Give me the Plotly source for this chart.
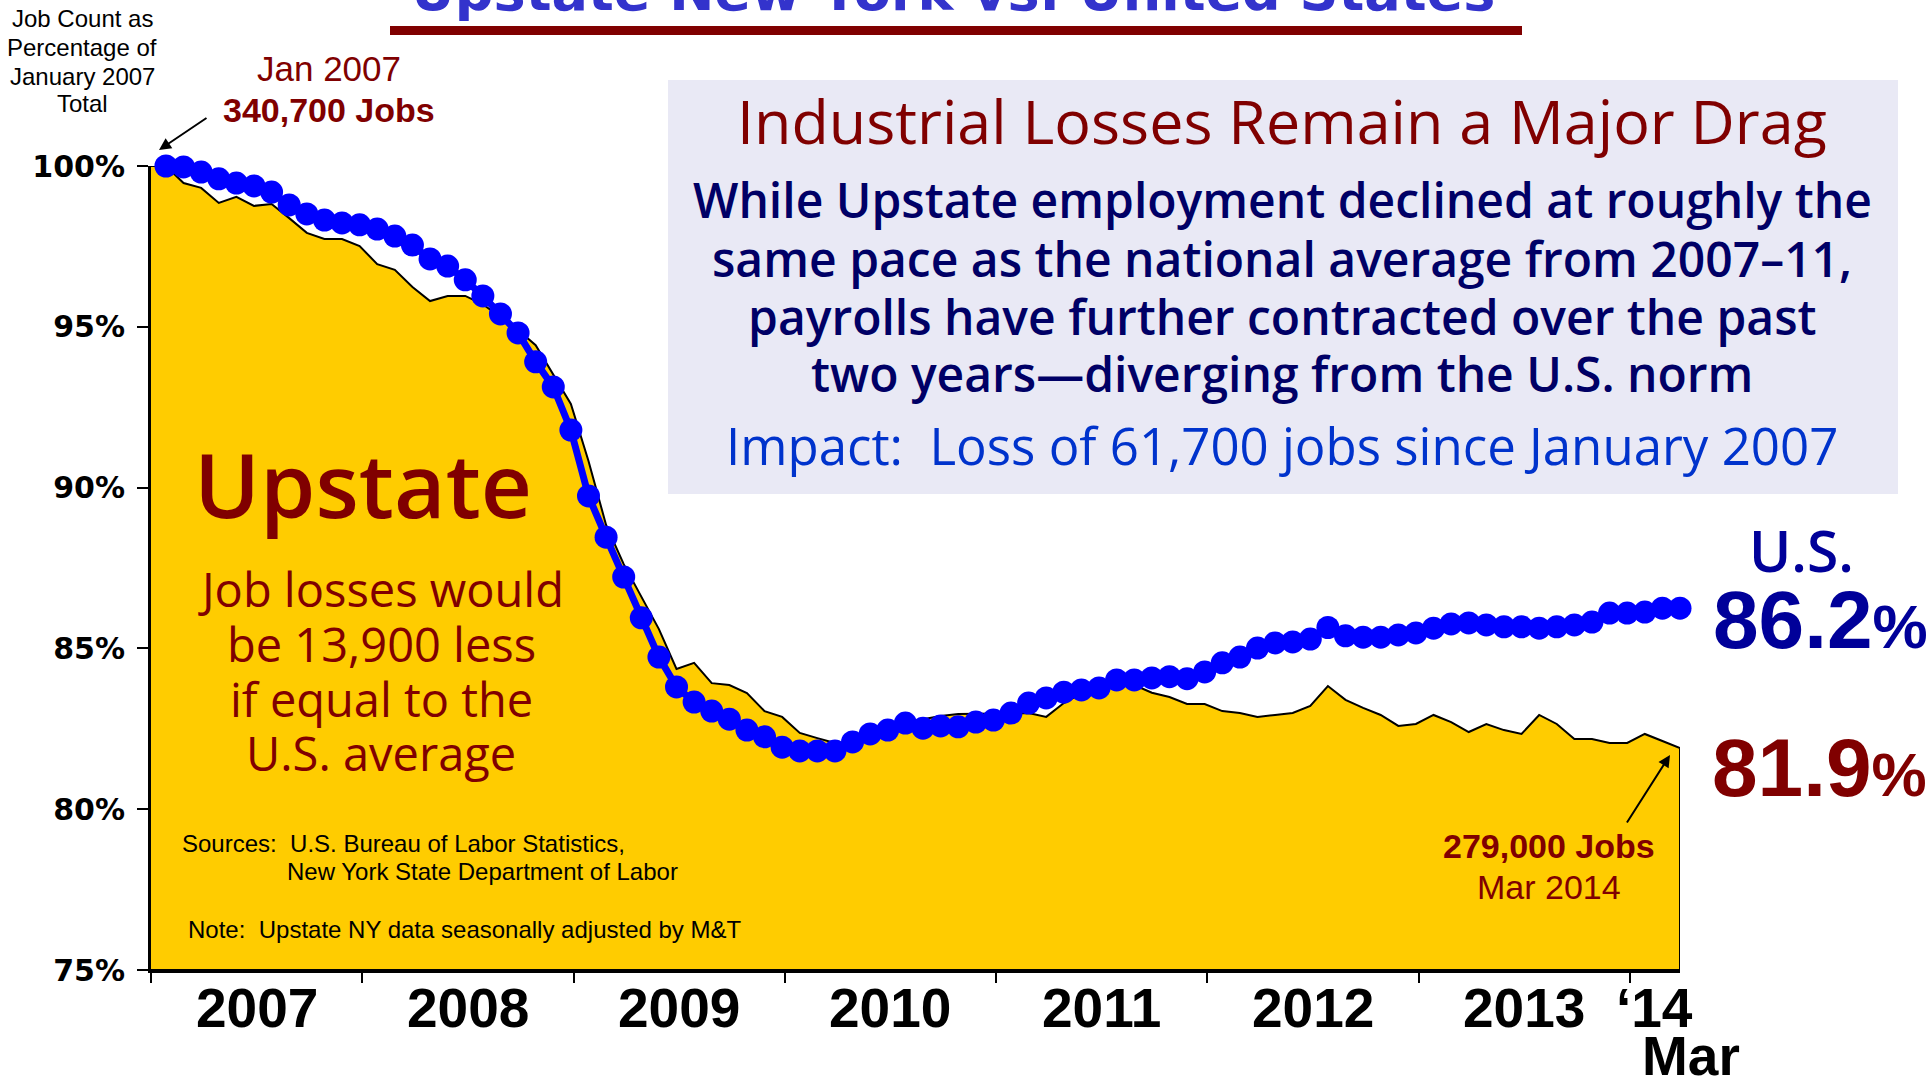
import plotly.graph_objects as go

# ---------------- data ----------------
MONTHS = [f"{y}-{m:02d}" for y in range(2007, 2015) for m in range(1, 13)][:87]  # Jan 2007 .. Mar 2014
YEAR_LABELS = ["2007", "2008", "2009", "2010", "2011", "2012", "2013"]
LAST_YEAR_LABEL = "\u201814"
LAST_MONTH_LABEL = "Mar"
Y_TICKS = [75, 80, 85, 90, 95, 100]
Y_TICK_TEXT = ["75%", "80%", "85%", "90%", "95%", "100%"]

upstate = [100.0, 99.47, 99.32, 98.85, 99.04, 98.76, 98.82, 98.38, 97.92, 97.73,
           97.73, 97.51, 96.95, 96.77, 96.24, 95.80, 95.96, 95.96, 95.7, 95.3,
           94.9, 94.43, 93.50, 92.60, 90.83, 88.84, 87.62, 86.6, 85.6, 84.36,
           84.55, 83.92, 83.86, 83.61, 83.05, 82.87, 82.37, 82.21, 82.06, 82.1,
           82.3, 82.5, 82.7, 82.8, 82.90, 82.96, 82.97, 82.98, 82.99, 82.99,
           82.87, 83.30, 83.6, 83.8, 84.0, 83.86, 83.62, 83.49, 83.27, 83.27,
           83.05, 82.99, 82.87, 82.93, 82.99, 83.21, 83.83, 83.40, 83.15, 82.93,
           82.59, 82.65, 82.93, 82.71, 82.40, 82.65, 82.46, 82.34, 82.93, 82.65,
           82.18, 82.18, 82.06, 82.06, 82.34, 82.12, 81.9]

us = [100.0, 99.97, 99.81, 99.6, 99.47, 99.38, 99.19, 98.79, 98.51, 98.32,
      98.23, 98.17, 98.04, 97.82, 97.54, 97.11, 96.89, 96.46, 95.96, 95.40,
      94.81, 93.91, 93.13, 91.79, 89.74, 88.46, 87.22, 85.95, 84.73, 83.80,
      83.33, 83.05, 82.80, 82.46, 82.25, 81.93, 81.81, 81.81, 81.81, 82.09,
      82.34, 82.46, 82.68, 82.52, 82.59, 82.56, 82.71, 82.77, 82.99, 83.30,
      83.46, 83.64, 83.71, 83.77, 84.02, 84.02, 84.08, 84.12, 84.06, 84.27,
      84.55, 84.73, 85.01, 85.17, 85.20, 85.29, 85.65, 85.39, 85.35, 85.35,
      85.42, 85.48, 85.63, 85.76, 85.79, 85.73, 85.67, 85.67, 85.63, 85.67,
      85.73, 85.82, 86.10, 86.10, 86.13, 86.25, 86.25]

# ---------------- layout geometry (page pixels) ----------------
W, H = 1929, 1079
PL, PR, PT, PB = 151, 1680, 166, 970
X_RANGE = [-0.85, len(MONTHS) - 1]
Y_MIN, Y_MAX = 75, 100

idx = list(range(len(MONTHS)))
tick_x = [X_RANGE[0] + 12 * k for k in range(8)]


def px(x):
    return (x - PL) / (PR - PL)


def py(y):
    return (PB - y) / (PB - PT)


DARKRED = "#800000"
NAVY = "#000099"
YEAR_FONT = "Liberation Sans Narrow, Arial Narrow, Liberation Sans, Arial"

fig = go.Figure()

# Upstate filled area (extends to the plot's left edge like the original)
xa = [X_RANGE[0]] + idx + [idx[-1], X_RANGE[0]]
ya = [upstate[0]] + upstate + [Y_MIN, Y_MIN]
fig.add_trace(go.Scatter(x=xa, y=ya, mode="lines", fill="toself",
                         fillcolor="#FFCC00", line=dict(color="black", width=2),
                         hoverinfo="skip", name="Upstate"))

fig.add_trace(go.Scatter(x=idx, y=us, mode="lines+markers", name="U.S.",
                         line=dict(color="#0000FF", width=7),
                         marker=dict(color="#0000FF", size=23),
                         cliponaxis=False, text=MONTHS))

fig.update_xaxes(range=X_RANGE, showgrid=False, zeroline=False, showline=True,
                 linecolor="black", linewidth=3, ticks="outside", ticklen=10,
                 tickwidth=2, tickcolor="black", tickvals=tick_x,
                 showticklabels=False)
fig.update_yaxes(range=[Y_MIN, Y_MAX], showgrid=False, zeroline=False,
                 showline=True, linecolor="black", linewidth=3, ticks="outside",
                 ticklen=11, tickwidth=2, tickcolor="black", tickvals=Y_TICKS,
                 ticktext=Y_TICK_TEXT, ticklabelstandoff=6,
                 tickfont=dict(family="DejaVu Sans", size=30, color="black",
                               weight="bold"))

ann = []


def text(x, y, t, size, color="black", family="Liberation Sans, Arial",
         weight="normal", xanchor="center", yanchor="middle", align="center"):
    ann.append(dict(x=px(x), y=py(y), xref="paper", yref="paper", text=t,
                    showarrow=False, xanchor=xanchor, yanchor=yanchor,
                    align=align,
                    font=dict(family=family, size=size, color=color,
                              weight=weight)))


def lines(x, ys, texts, size, **kw):
    for y, t in zip(ys, texts):
        text(x, y, t, size, **kw)


def arrow(tail, tip):
    ann.append(dict(x=px(tip[0]), y=py(tip[1]), xref="paper", yref="paper",
                    ax=tail[0] - tip[0], ay=tail[1] - tip[1], text="",
                    showarrow=True, arrowhead=2, arrowsize=1.2, arrowwidth=2,
                    arrowcolor="black", standoff=0))


# top (cut) title
text(953, 25, "Upstate New York vs. United States", 54, "#3333CC",
     family="DejaVu Sans", weight="bold", yanchor="bottom")

# y axis title
lines(82, [18, 47, 76, 104],
      ["Job Count as", "Percentage of", "January 2007", "Total"], 24)

# Jan 2007 label
text(329, 68, "Jan 2007", 35, DARKRED)
text(329, 110, "340,700 Jobs", 34, DARKRED, weight="bold")
arrow((208, 117), (159, 150))

# Upstate labels
text(363, 483, "Upstate", 89, DARKRED, family="Open Sans", weight=600)
lines(381, [589, 644, 699, 753],
      ["Job losses would", "be 13,900 less", "if equal to the", "U.S. average"],
      47, color=DARKRED, family="Open Sans")

# sources / note
text(180, 843, "Sources:\u00a0 U.S. Bureau of Labor Statistics,", 24,
     xanchor="left")
text(285, 871, "New York State Department of Labor", 24, xanchor="left")
text(186, 929, "Note:\u00a0 Upstate NY data seasonally adjusted by M&amp;T", 24,
     xanchor="left")

# end-point labels
text(1549, 846, "279,000 Jobs", 34, DARKRED, weight="bold")
text(1549, 887, "Mar 2014", 34, DARKRED)
arrow((1626, 824), (1670, 755))

text(1801, 550, "U.S.", 57, NAVY, family="Open Sans", weight=600)
text(1711, 619, "86.2<span style='font-size:62px'>%</span>", 82, NAVY,
     weight="bold", xanchor="left")
text(1710, 767, "81.9<span style='font-size:62px'>%</span>", 82, DARKRED,
     weight="bold", xanchor="left")

# text box
text(1282, 120, "Industrial Losses Remain a Major Drag", 61, DARKRED,
     family="Open Sans", weight=500)
lines(1282, [200, 258, 316, 373],
      ["While Upstate employment declined at roughly the",
       "same pace as the national average from 2007\u201311,",
       "payrolls have further contracted over the past",
       "two years\u2014diverging from the U.S. norm"],
      48, color="#000066", family="Open Sans", weight=600)
text(1282, 445, "Impact:\u00a0 Loss of 61,700 jobs since January 2007", 51,
     "#0033CC", family="Open Sans")

# year labels (between ticks)
for k, lab in enumerate(YEAR_LABELS):
    xm = (tick_x[k] + tick_x[k + 1]) / 2
    ann.append(dict(x=xm, y=py(1008), xref="x", yref="paper", text=lab,
                    showarrow=False, xanchor="center", yanchor="middle",
                    font=dict(family=YEAR_FONT, size=55, color="black",
                              weight="bold")))
ann.append(dict(x=(tick_x[-1] + X_RANGE[1]) / 2, y=py(1008), xref="x",
                yref="paper", text=LAST_YEAR_LABEL, showarrow=False,
                xanchor="center", yanchor="middle",
                font=dict(family=YEAR_FONT, size=55, color="black",
                          weight="bold")))
text(1691, 1056, LAST_MONTH_LABEL, 55, family=YEAR_FONT, weight="bold")

shapes = [
    dict(type="rect", xref="paper", yref="paper", x0=px(390), x1=px(1522),
         y0=py(35), y1=py(26), fillcolor=DARKRED, line=dict(width=0),
         layer="above"),
    dict(type="rect", xref="paper", yref="paper", x0=px(668), x1=px(1898),
         y0=py(494), y1=py(80), fillcolor="#E9E9F5", line=dict(width=0),
         layer="above"),
]

fig.update_layout(width=W, height=H, autosize=False,
                  margin=dict(l=PL, r=W - PR, t=PT, b=H - PB, pad=0,
                              autoexpand=False),
                  paper_bgcolor="white", plot_bgcolor="white",
                  showlegend=False, annotations=ann, shapes=shapes,
                  hovermode=False)

fig.write_html("out.html", config={"displayModeBar": False},
               post_script="document.documentElement.style.margin='0';"
                           "document.body.style.margin='0';"
                           "document.body.style.overflow='hidden';")
